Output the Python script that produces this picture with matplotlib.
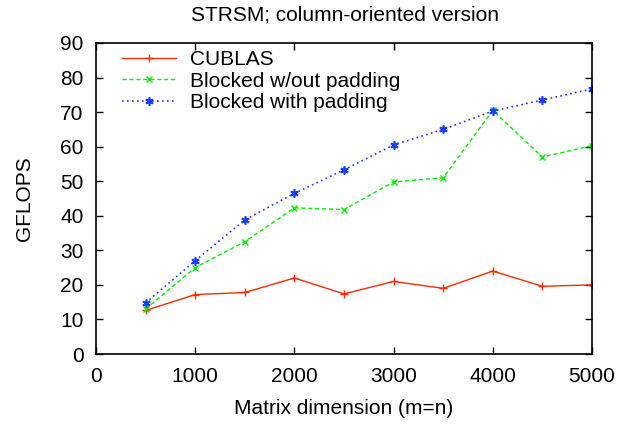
import matplotlib
matplotlib.use("Agg")
import matplotlib.pyplot as plt

sizes = [500, 1000, 1500, 2000, 2500, 3000, 3500, 4000, 4500, 5000]
cublas = [12.6, 17.2, 17.8, 22.0, 17.4, 21.0, 19.0, 24.0, 19.6, 20.0]
blocked_nopad = [13.0, 25.0, 32.5, 42.3, 41.8, 49.8, 51.0, 70.5, 57.0, 60.3]
blocked_pad = [14.8, 27.0, 38.8, 46.5, 53.3, 60.5, 65.0, 70.3, 73.5, 76.7]
xticks = [0, 1000, 2000, 3000, 4000, 5000]
yticks = list(range(0, 100, 10))

plt.rcParams['font.family'] = ['Liberation Sans', 'DejaVu Sans']

fig = plt.figure(figsize=(6.34, 4.24), dpi=100)
ax = fig.add_axes([96/634, 1 - 354/424, (592-96)/634, (354-43)/424])

ax.plot(sizes, cublas, color='#ff2a00', linestyle='-', linewidth=1.0,
        marker='+', markersize=6, markeredgewidth=1.0, label='CUBLAS')
ax.plot(sizes, blocked_nopad, color='#00ee00', linestyle=(0, (3, 2)), linewidth=1.0,
        marker='x', markersize=5, markeredgewidth=1.0, label='Blocked w/out padding')
ax.plot(sizes, blocked_pad, color='#1a3cff', linestyle=(0, (1, 2)), linewidth=1.2,
        marker=(6, 2, 0), markersize=6, markeredgewidth=1.2, label='Blocked with padding')

ax.set_xlim(0, 5000)
ax.set_ylim(0, 90)
ax.set_xticks(xticks)
ax.set_yticks(yticks)
ax.tick_params(direction='in', top=True, right=True, length=5, width=1,
               labelsize=15, pad=9)
for s in ax.spines.values():
    s.set_linewidth(1.2)

ax.set_xlabel('Matrix dimension (m=n)', fontsize=15, labelpad=10)
ax.set_ylabel('GFLOPS', fontsize=15, labelpad=19)
fig.text(345/634, 1 - 15/424, 'STRSM; column-oriented version', ha='center', va='center', fontsize=15)

leg = ax.legend(loc='upper left', bbox_to_anchor=(26/496, 1 - 7/311), frameon=False, fontsize=15,
                handlelength=2.6, handletextpad=0.65, labelspacing=0.13,
                borderaxespad=0.0, borderpad=0.0)

fig.savefig('out.png', dpi=100)
